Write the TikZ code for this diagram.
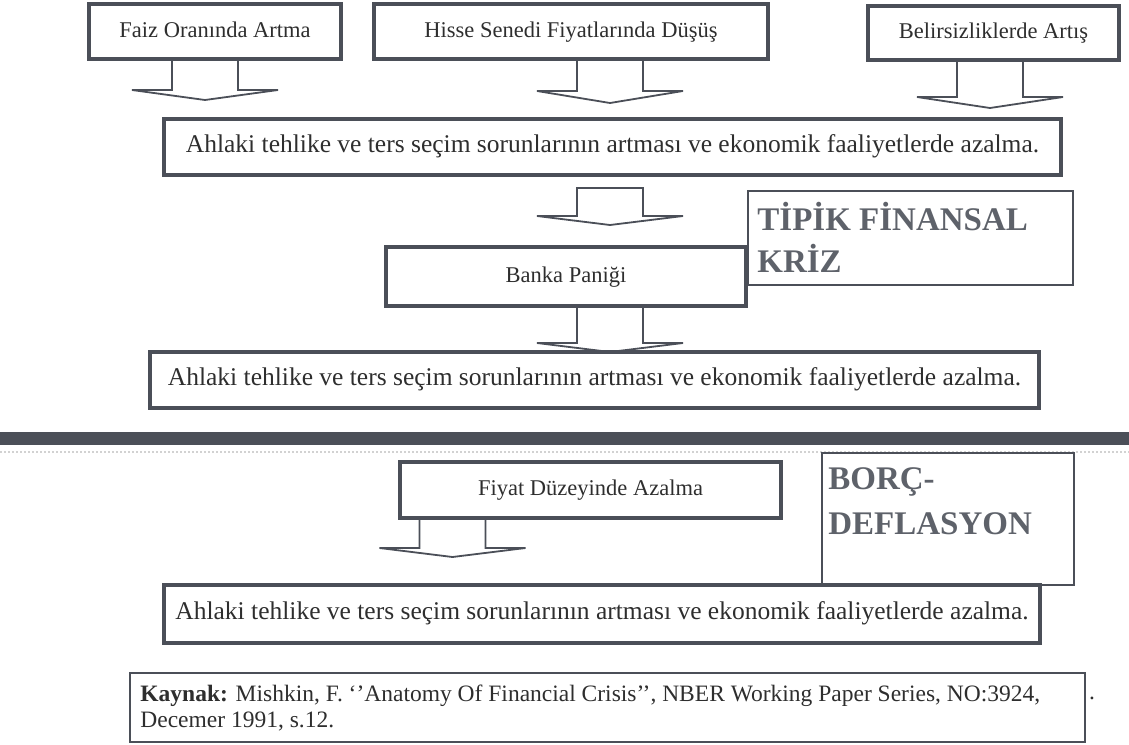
\documentclass[tikz,border=0pt]{standalone}
\usepackage{fontspec}
\setmainfont{Liberation Serif}
\usetikzlibrary{calc}
\definecolor{boxgray}{HTML}{4B4F58}
\definecolor{textgray}{HTML}{2E2E2E}
\definecolor{titlegray}{HTML}{5E626A}
% open block arrow: [close], top centre, shaft length, head depth
\newcommand{\blockarr}[4][]{\draw[arrowline] ($(#2)+(-33,0)$) -- ++(0,#3) -- ++(-40,0) -- ++(73,#4) -- ++(73,-#4) -- ++(-40,0) -- ++(0,-#3) #1;}
\begin{document}
\begin{tikzpicture}[x=1pt, y=-1pt,
    thickbox/.style={draw=boxgray, line width=4pt, text=textgray, font=\fontsize{22.5}{27}\selectfont, inner sep=0pt, text height=16pt, text depth=5pt},
    widebox/.style={thickbox, font=\fontsize{25.5}{30}\selectfont},
    thinbox/.style={draw=boxgray, line width=1.6pt, inner sep=0pt},
    titletext/.style={text=titlegray, font=\fontsize{33}{42}\selectfont\bfseries, align=left, inner sep=0pt},
    arrowline/.style={draw=boxgray, line width=1.8pt, line join=miter}]
    \useasboundingbox (0,0) rectangle (1129,744);
    % Causes
    \node[thickbox, minimum width=252, minimum height=55] (faiz) at (215,31.5) {Faiz Oranında Artma};
    \node[thickbox, minimum width=394, minimum height=55] (hisse) at (571,31.5) {Hisse Senedi Fiyatlarında Düşüş};
    \node[thickbox, minimum width=251, minimum height=54] (belirsiz) at (993.5,33) {Belirsizliklerde Artış};
    % Typical financial crisis
    \node[widebox, minimum width=897, minimum height=56] (ahlak1) at (612.5,147) {Ahlaki tehlike ve ters seçim sorunlarının artması ve ekonomik faaliyetlerde azalma.};
    \node[thinbox, minimum width=325, minimum height=94] (tipik) at (910.5,238) {};
    \node[titletext, anchor=north west] (tipikT) at ([xshift=10pt,yshift=-12pt]tipik.north west) {TİPİK FİNANSAL\\KRİZ};
    \node[thickbox, minimum width=360, minimum height=59] (banka) at (566,276.5) {Banka Paniği};
    \node[widebox, minimum width=889, minimum height=56] (ahlak2) at (594.5,380) {Ahlaki tehlike ve ters seçim sorunlarının artması ve ekonomik faaliyetlerde azalma.};
    % Separator
    \fill[boxgray] (0,432) rectangle (1129,445);
    \draw[gray!35, line width=2pt, dotted] (0,452) -- (1129,452);
    % Debt deflation
    \node[thickbox, minimum width=381, minimum height=56] (fiyat) at (590.5,490) {Fiyat Düzeyinde Azalma};
    \node[thinbox, minimum width=252, minimum height=132] (borc) at (948,519) {};
    \node[titletext, anchor=north west, font=\fontsize{33}{45}\selectfont\bfseries] (borcT) at ([xshift=7pt,yshift=-15pt]borc.north west) {BORÇ-\\DEFLASYON};
    \node[widebox, minimum width=876, minimum height=58] (ahlak3) at (602,614) {Ahlaki tehlike ve ters seçim sorunlarının artması ve ekonomik faaliyetlerde azalma.};
    % Source
    \node[thinbox, minimum width=955, minimum height=69] (kaynak) at (607.5,707.5) {};
    \node[anchor=west, align=left, inner sep=0pt, text=textgray, font=\fontsize{23.5}{26}\selectfont] (kaynakT) at ([xshift=11pt,yshift=-1pt]kaynak.west) {\textbf{Kaynak:} Mishkin, F. `{}'Anatomy Of Financial Crisis{'}{'}, NBER Working Paper Series, NO:3924,\\Decemer 1991, s.12.};
    \node[text=textgray, font=\fontsize{23.5}{26}\selectfont, inner sep=0pt, anchor=base] (dot) at (1092,699) {.};
    % Arrows
    \coordinate (a1) at ($(faiz.south)+(-10,0)$);
    \coordinate (a2) at ($(hisse.south)+(39,0)$);
    \coordinate (a3) at ($(belirsiz.south)+(-3.5,0)$);
    \coordinate (a4) at ($(ahlak1.south)+(-2.5,11)$);
    \coordinate (a5) at ($(banka.south)+(44,0)$);
    \coordinate (a6) at ($(fiyat.south)+(-138,0)$);
    \blockarr{a1}{29}{10}
    \blockarr{a2}{30}{12}
    \blockarr{a3}{35}{11}
    \blockarr[-- cycle]{a4}{28}{9}
    \blockarr{a5}{35}{9}
    \blockarr{a6}{28}{9}
\end{tikzpicture}
\end{document}
